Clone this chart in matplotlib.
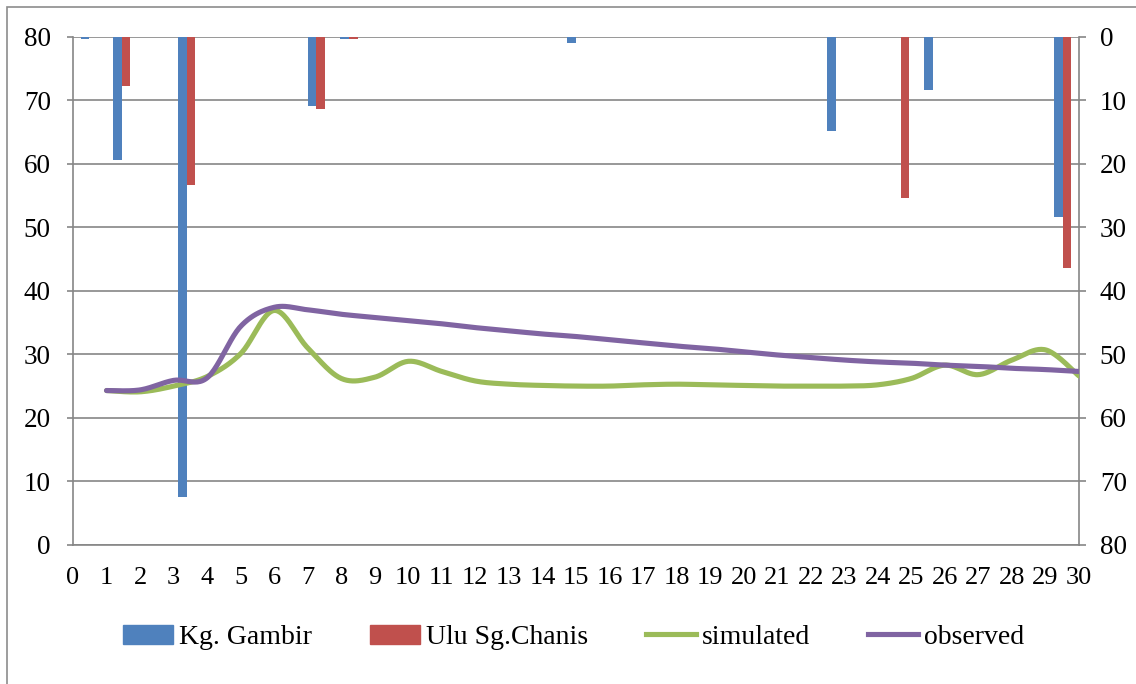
import numpy as np
import matplotlib
import matplotlib.pyplot as plt
from matplotlib.patches import Rectangle, Patch
from matplotlib.lines import Line2D

matplotlib.use("Agg")

plt.rcParams["font.family"] = "Liberation Serif"
plt.rcParams["font.size"] = 19

# Daily rainfall at the two gauges (index 0..30), right axis
rain_days = list(range(31))
kg_gambir = [0.45, 19.4, 0, 72.4, 0, 0, 0, 10.9, 0.45, 0,
             0, 0, 0, 0, 0, 1.0, 0, 0, 0, 0,
             0, 0, 0, 14.8, 0, 0, 8.35, 0, 0, 0,
             28.4]
ulu_chanis = [0, 7.8, 0, 23.3, 0, 0, 0, 11.4, 0.4, 0,
              0, 0, 0, 0, 0, 0, 0, 0, 0, 0,
              0, 0, 0, 0, 0, 25.4, 0, 0, 0, 0,
              36.4]

# Simulated vs observed series (days 1..30), left axis
days = list(range(1, 31))
simulated = [24.3, 24.1, 25.0, 26.5, 30.1, 36.9, 31.0, 26.2, 26.4, 28.9,
             27.3, 25.8, 25.3, 25.1, 25.0, 25.0, 25.2, 25.3, 25.2, 25.1,
             25.0, 25.0, 25.0, 25.2, 26.2, 28.3, 26.8, 29.1, 30.7, 26.6]
observed = [24.3, 24.4, 25.9, 26.3, 34.4, 37.4, 37.0, 36.3, 35.8, 35.3,
            34.8, 34.2, 33.7, 33.2, 32.8, 32.3, 31.8, 31.3, 30.9, 30.4,
            29.9, 29.5, 29.1, 28.8, 28.6, 28.3, 28.1, 27.8, 27.6, 27.3]

x_ticks = list(range(0, 31))
y_ticks = list(range(0, 81, 10))

BLUE = "#4F81BD"
RED = "#C0504D"
GREEN = "#9BBB59"
PURPLE = "#8064A2"
GRID = "#868686"


def smooth(xs, ys, n=24):
    # Bezier smoothing through every point (Catmull-Rom style control points)
    pts = np.column_stack([xs, ys]).astype(float)
    P = np.vstack([pts[0], pts, pts[-1]])
    t = np.linspace(0, 1, n, endpoint=False)[:, None]
    out = []
    for i in range(1, len(P) - 2):
        p0, p1, p2, p3 = P[i - 1], P[i], P[i + 1], P[i + 2]
        c1 = p1 + (p2 - p0) / 6
        c2 = p2 - (p3 - p1) / 6
        out.append((1 - t) ** 3 * p1 + 3 * (1 - t) ** 2 * t * c1
                   + 3 * (1 - t) * t ** 2 * c2 + t ** 3 * p2)
    out.append(pts[-1:])
    seg = np.vstack(out)
    return seg[:, 0], seg[:, 1]


fig = plt.figure(figsize=(11.36, 6.84), dpi=100)
rect = [73 / 1136, 1 - 545 / 684, (1079 - 73) / 1136, (545 - 36.5) / 684]

# bars on an inverted right axis, categories 0..30
axb = fig.add_axes(rect)
axb.set_zorder(1)
w = 0.268
rx = np.array(rain_days)
axb.bar(rx - w / 2, kg_gambir, w, color=BLUE, zorder=3)
axb.bar(rx + w / 2, ulu_chanis, w, color=RED, zorder=3)
axb.set_xlim(-0.5, 30.5)
axb.set_ylim(80, 0)
axb.set_yticks(y_ticks)
axb.yaxis.tick_right()
axb.set_xticks([])
axb.yaxis.grid(True, color=GRID, lw=1.2)
axb.set_axisbelow(True)
for s in ["left", "top", "bottom"]:
    axb.spines[s].set_visible(False)
axb.spines["right"].set_color(GRID)
axb.spines["right"].set_linewidth(1.2)
axb.tick_params(axis="y", right=True, direction="out", length=5, width=1.2,
                color=GRID, pad=10, labelsize=19.5)

# lines on the left axis
ax = fig.add_axes(rect)
ax.set_zorder(2)
ax.patch.set_visible(False)
sx, sy = smooth(days, simulated)
ox, oy = smooth(days, observed)
ax.plot(sx, sy, color=GREEN, lw=3.7, solid_capstyle="round")
ax.plot(ox, oy, color=PURPLE, lw=3.7, solid_capstyle="round")
ax.set_xlim(0, 30)
ax.set_ylim(0, 80)
ax.set_xticks(x_ticks)
ax.set_yticks(y_ticks)
for s in ["right", "top"]:
    ax.spines[s].set_visible(False)
for s in ["left", "bottom"]:
    ax.spines[s].set_color(GRID)
    ax.spines[s].set_linewidth(1.2)
ax.tick_params(axis="y", direction="out", length=4, width=1.2, color=GRID,
               pad=12, labelsize=19.5)
ax.tick_params(axis="x", direction="out", length=0, pad=16, labelsize=19)

handles = [
    Patch(color=BLUE, label="Kg. Gambir"),
    Patch(color=RED, label="Ulu Sg.Chanis"),
    Line2D([], [], color=GREEN, lw=3.7, label="simulated"),
    Line2D([], [], color=PURPLE, lw=3.7, label="observed"),
]
fig.legend(handles=handles, loc="center", bbox_to_anchor=(0.505, 0.068),
           ncol=4, frameon=False, fontsize=20, handlelength=1.8,
           handleheight=0.65, handletextpad=0.2, columnspacing=2.1)

# outer chart frame
fig.add_artist(Rectangle((7 / 1136, -0.1), 1.2, 1.1 - 7 / 684,
                         transform=fig.transFigure, fill=False,
                         edgecolor="#8c8c8c", lw=1.2))

fig.savefig("out.png", dpi=100)
